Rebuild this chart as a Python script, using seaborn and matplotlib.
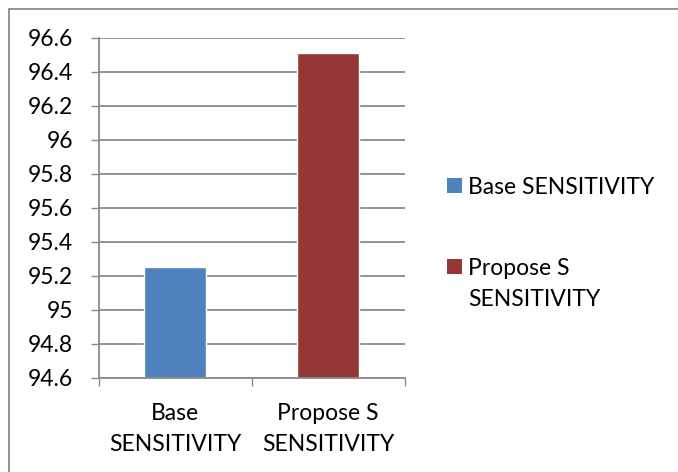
import matplotlib
matplotlib.use("Agg")
import matplotlib.pyplot as plt
from matplotlib.patches import Rectangle
from matplotlib.lines import Line2D
import seaborn as sns
import pandas as pd

# Sensitivity of the base method versus the proposed method
categories = ["Base\nSENSITIVITY", "Propose S\nSENSITIVITY"]
legend_labels = ["Base SENSITIVITY", "Propose S\nSENSITIVITY"]
values = [95.25, 96.51]
colors = ["#4F81BD", "#953735"]
y_ticks = [94.6, 94.8, 95.0, 95.2, 95.4, 95.6, 95.8, 96.0, 96.2, 96.4, 96.6]
y_tick_labels = ["94.6", "94.8", "95", "95.2", "95.4", "95.6", "95.8", "96", "96.2", "96.4", "96.6"]

df = pd.DataFrame({"category": categories, "value": values})

sns.set_theme(style="white")
plt.rcParams["font.family"] = ["Lato", "DejaVu Sans"]

W, H = 678, 472
fig = plt.figure(figsize=(W / 100, H / 100), dpi=100)
fig.patch.set_facecolor("white")

grid_col = "#8a8a8a"
font_size = 16.5
line_spacing = 1.6
line_gap_px = 31.5

# plot area in pixel coordinates
left_px, right_px, top_px, bottom_px = 98.7, 404.5, 37.5, 378.0
ax = fig.add_axes([left_px / W, (H - bottom_px) / H,
                   (right_px - left_px) / W, (bottom_px - top_px) / H])

sns.barplot(data=df, x="category", y="value", hue="category",
            palette=colors, width=0.404, legend=False, ax=ax,
            saturation=1, bottom=0)

# bars start at the lower axis limit
ax.set_ylim(94.6, 96.6)
ax.set_xlim(-0.5, 1.5)
ax.set_yticks(y_ticks)
ax.set_yticklabels(y_tick_labels)
ax.set_xlabel("")
ax.set_ylabel("")

ax.yaxis.grid(True, color=grid_col, linewidth=1.3)
ax.xaxis.grid(False)
ax.set_axisbelow(True)

for s in ["top", "right"]:
    ax.spines[s].set_visible(False)
for s in ["left", "bottom"]:
    ax.spines[s].set_visible(True)
    ax.spines[s].set_color(grid_col)
    ax.spines[s].set_linewidth(1.3)

ax.tick_params(axis="y", which="major", direction="out", length=5.5,
               width=1.0, color=grid_col, pad=13, labelsize=font_size,
               labelcolor="black", left=True)
ax.tick_params(axis="x", which="major", length=0, pad=18,
               labelsize=font_size, labelcolor="black")
ax.set_xticks([-0.5, 0.5, 1.5], minor=True)
ax.tick_params(axis="x", which="minor", direction="out", length=5.5,
               width=1.0, color=grid_col, bottom=True)
for lbl in ax.get_xticklabels():
    lbl.set_linespacing(line_spacing)

# legend on the right: square swatch aligned with the first text line
legend_rows_px = [185.5, 266.5]
swatch = 15
for color, label, yc in zip(colors, legend_labels, legend_rows_px):
    fig.add_artist(Rectangle((447 / W, (H - yc - swatch / 2) / H),
                             swatch / W, swatch / H,
                             transform=fig.transFigure,
                             facecolor=color, edgecolor="none"))
    # baseline alignment refers to the last line of the label
    extra_lines = label.count("\n")
    baseline_px = yc + 8 + extra_lines * line_gap_px
    fig.text(468 / W, (H - baseline_px) / H, label, fontsize=font_size,
             color="black", ha="left", va="baseline",
             linespacing=line_spacing)

# chart frame
fig.add_artist(Line2D([9 / W, 9 / W], [(H - 9) / H, -0.05],
                      transform=fig.transFigure, color=grid_col, linewidth=1.3))
fig.add_artist(Line2D([9 / W, 1.05], [(H - 9) / H, (H - 9) / H],
                      transform=fig.transFigure, color=grid_col, linewidth=1.3))

fig.savefig("out.png", dpi=100, facecolor="white")
